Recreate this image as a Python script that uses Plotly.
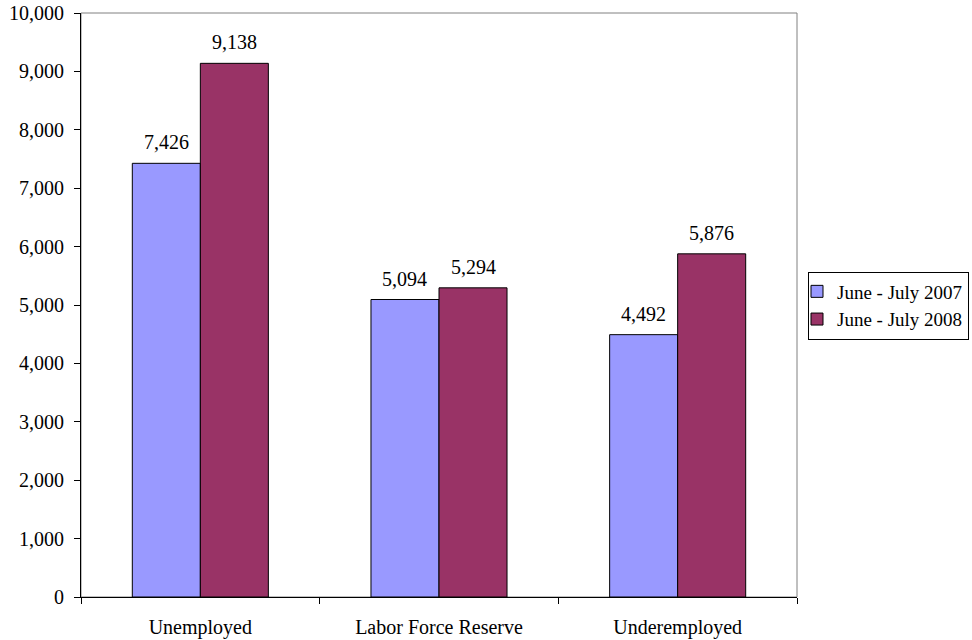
import plotly.graph_objects as go

# Categories and series values
categories = ["Unemployed", "Labor Force Reserve", "Underemployed"]
series_names = ["June - July 2007", "June - July 2008"]
values_2007 = [7426, 5094, 4492]
values_2008 = [9138, 5294, 5876]
y_tick_values = list(range(0, 10001, 1000))

colors = ["#9999FF", "#993366"]
font_family = "Liberation Serif"
font_size = 20
legend_font_size = 19

# Plot geometry (px)
W, H = 972, 640
M_L, M_R, M_T, M_B = 81, 175, 13, 43
plot_w = W - M_L - M_R
plot_h = H - M_T - M_B
bargap = 0.43
bar_px = plot_w / len(categories) * (1 - bargap) / 2

fig = go.Figure()
for name, vals, col in zip(series_names, [values_2007, values_2008], colors):
    fig.add_trace(go.Bar(
        name=name, x=categories, y=vals,
        marker=dict(color=col, line=dict(color="black", width=1)),
    ))

# Value labels above each bar
annotations = []
for i, vals in enumerate([values_2007, values_2008]):
    shift = (i - 0.5) * bar_px
    for cat, v in zip(categories, vals):
        annotations.append(dict(
            x=cat, y=v, xref="x", yref="y", text=f"{v:,}",
            showarrow=False, xshift=shift, yshift=8, yanchor="bottom",
            font=dict(family=font_family, size=font_size, color="black"),
        ))

fig.update_layout(
    width=W, height=H,
    margin=dict(l=M_L, r=M_R, t=M_T, b=M_B, pad=0, autoexpand=False),
    paper_bgcolor="white", plot_bgcolor="white",
    barmode="group", bargap=bargap, bargroupgap=0,
    font=dict(family=font_family, size=font_size, color="black"),
    annotations=annotations,
    shapes=[dict(type="rect", xref="paper", yref="paper", x0=0, x1=1, y0=0, y1=1,
                 line=dict(color="#808080", width=1), layer="below")],
    legend=dict(
        x=(808 - M_L) / plot_w, y=(H - M_B - 305.5) / plot_h,
        xanchor="left", yanchor="middle",
        bordercolor="black", borderwidth=1, bgcolor="white",
        font=dict(family=font_family, size=legend_font_size, color="black"),
        indentation=-12, tracegroupgap=0,
    ),
    showlegend=True,
)
fig.update_xaxes(
    type="category", range=[-0.5, 2.5], showgrid=False, automargin=False,
    showline=True, linecolor="black", linewidth=1,
    ticks="outside", tickson="boundaries", ticklen=6, tickcolor="black",
    ticklabelstandoff=12,
    tickfont=dict(family=font_family, size=font_size, color="black"),
)
fig.update_yaxes(
    range=[0, 10000], tickvals=y_tick_values, tickformat=",", showgrid=False,
    automargin=False,
    showline=True, linecolor="black", linewidth=1, zeroline=False,
    ticks="outside", ticklen=6, tickcolor="black", ticklabelstandoff=6,
    tickfont=dict(family=font_family, size=font_size, color="black"),
)

fig.write_html("out.html")
